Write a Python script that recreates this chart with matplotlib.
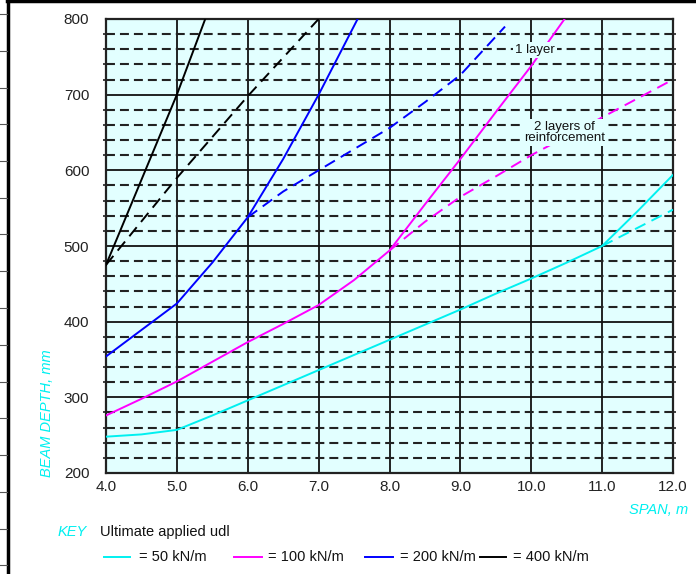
import matplotlib
matplotlib.use("Agg")
import matplotlib.pyplot as plt
from matplotlib.lines import Line2D
from matplotlib.ticker import MultipleLocator, FixedLocator

# ---------------- data ----------------
x_ticks = [4.0, 5.0, 6.0, 7.0, 8.0, 9.0, 10.0, 11.0, 12.0]
x_tick_labels = ["4.0", "5.0", "6.0", "7.0", "8.0", "9.0", "10.0", "11.0", "12.0"]
y_ticks = [200, 300, 400, 500, 600, 700, 800]
y_tick_labels = ["200", "300", "400", "500", "600", "700", "800"]

span_50 = [4.0, 4.5, 5.0, 5.5, 6.0, 6.5, 7.0, 7.5, 8.0, 8.5, 9.0, 9.5, 10.0, 10.5, 11.0, 11.5, 12.0]
depth_50 = [248, 251, 257, 276, 296, 316, 336, 356, 376, 396, 416, 437, 457, 478, 500, 546, 594]
span_50_2l = [11.0, 12.0]
depth_50_2l = [500, 548]

span_100 = [4.0, 4.5, 5.0, 5.5, 6.0, 6.5, 7.0, 7.5, 8.0, 8.5, 9.0, 9.5, 10.0, 10.47]
depth_100 = [276, 298, 321, 347, 373, 397, 422, 455, 494, 555, 615, 677, 738, 800]
span_100_2l = [8.0, 8.5, 9.0, 9.5, 10.0, 10.5, 11.0, 11.5, 12.0]
depth_100_2l = [494, 532, 565, 592, 620, 645, 670, 695, 720]

span_200 = [4.0, 4.5, 5.0, 5.5, 6.0, 6.5, 7.0, 7.55]
depth_200 = [354, 389, 424, 478, 538, 615, 700, 800]
span_200_2l = [6.0, 6.5, 7.0, 7.5, 8.0, 8.5, 9.0, 9.63]
depth_200_2l = [538, 572, 600, 628, 656, 690, 726, 790]

span_400 = [4.0, 5.0, 5.4]
depth_400 = [475, 700, 800]
span_400_2l = [4.0, 5.0, 6.0, 7.0]
depth_400_2l = [475, 590, 698, 800]

load_labels = ["= 50 kN/m", "= 100 kN/m", "= 200 kN/m", "= 400 kN/m"]

# ---------------- style ----------------
plt.rcParams["font.family"] = ["Liberation Sans", "DejaVu Sans"]

BG = "#e2ffff"
CYAN = "#00f0f0"
MAG = "#ff00ff"
BLUE = "#0000ff"
BLK = "#000000"
colors = [CYAN, MAG, BLUE, BLK]

W, H = 696, 574
fig = plt.figure(figsize=(W / 100, H / 100), dpi=100)
fig.patch.set_facecolor("white")

left, right, top, bottom = 106, 673, 19, 473
ax = fig.add_axes([left / W, 1 - bottom / H, (right - left) / W, (bottom - top) / H])
ax.set_facecolor(BG)
ax.set_xlim(4.0, 12.0)
ax.set_ylim(200, 800)

ax.xaxis.set_major_locator(FixedLocator(x_ticks))
ax.set_xticklabels(x_tick_labels)
ax.yaxis.set_major_locator(FixedLocator(y_ticks))
ax.set_yticklabels(y_tick_labels)
ax.yaxis.set_minor_locator(MultipleLocator(20))

ax.grid(True, which="major", color="#111111", lw=1.3, ls="-", zorder=1)
ax.grid(True, which="minor", axis="y", color="#222222", lw=1.5, ls=(0, (4.3, 2.4)), zorder=1)
ax.set_axisbelow(True)

ax.tick_params(axis="both", which="major", length=0, labelsize=11, colors="#222222")
ax.tick_params(axis="x", which="major", pad=5)
ax.tick_params(axis="y", which="major", pad=12)
ax.tick_params(axis="y", which="minor", direction="inout", length=4, width=1.2,
               left=True, right=True, color="#222222")
for s in ax.spines.values():
    s.set_linewidth(1.6)
    s.set_color("#222222")

lw = 1.4
dash = (0, (6, 3.5))
ax.plot(span_50, depth_50, color=CYAN, lw=lw, zorder=3)
ax.plot(span_50_2l, depth_50_2l, color=CYAN, lw=lw, ls=dash, zorder=3)
ax.plot(span_100, depth_100, color=MAG, lw=lw, zorder=3)
ax.plot(span_100_2l, depth_100_2l, color=MAG, lw=lw, ls=dash, zorder=3)
ax.plot(span_200, depth_200, color=BLUE, lw=lw, zorder=3)
ax.plot(span_200_2l, depth_200_2l, color=BLUE, lw=lw, ls=dash, zorder=3)
ax.plot(span_400, depth_400, color=BLK, lw=lw, zorder=3)
ax.plot(span_400_2l, depth_400_2l, color=BLK, lw=lw, ls=dash, zorder=3)

box = dict(facecolor=BG, edgecolor="none", pad=1.5)
ax.text(10.05, 759, "1 layer", fontsize=9.5, ha="center", va="center", color="#111111",
        bbox=box, zorder=5)
ax.text(10.47, 650, "2 layers of\nreinforcement", fontsize=9.5, ha="center", va="center",
        color="#111111", linespacing=0.95, bbox=box, zorder=5)

# axis titles
fig.text(47 / W, 1 - 477 / H, "BEAM DEPTH, mm", rotation=90, ha="center", va="bottom",
         color=CYAN, fontsize=10.5, style="italic")
fig.text(688 / W, 1 - 510 / H, "SPAN, m", ha="right", va="center",
         color=CYAN, fontsize=10.5, style="italic")

# key
fig.text(58 / W, 1 - 532 / H, "KEY", ha="left", va="center", color=CYAN, fontsize=10.5, style="italic")
fig.text(100 / W, 1 - 532 / H, "Ultimate applied udl", ha="left", va="center",
         color="#111111", fontsize=10.5)
key_line_x = [(104, 130), (234, 262), (365, 393), (480, 506)]
key_text_x = [139, 268, 400, 513]
ky = 1 - 557 / H
for (x0, x1), tx, c, lab in zip(key_line_x, key_text_x, colors, load_labels):
    fig.add_artist(Line2D([x0 / W, x1 / W], [ky, ky], color=c, lw=1.4, transform=fig.transFigure))
    fig.text(tx / W, ky, lab, ha="left", va="center", color="#111111", fontsize=10.5)

# page frame decoration
fig.add_artist(Line2D([8 / W, 8 / W], [0, 1], color="black", lw=2.5, transform=fig.transFigure))
fig.add_artist(Line2D([7 / W, 1], [1 - 1.2 / H, 1 - 1.2 / H], color="black", lw=2.5,
                      transform=fig.transFigure))
py = 14.0
while py < H:
    fig.add_artist(Line2D([0, 7 / W], [1 - py / H, 1 - py / H], color="#555555", lw=0.8,
                          transform=fig.transFigure))
    py += 36.75

fig.savefig("out.png", dpi=100)
